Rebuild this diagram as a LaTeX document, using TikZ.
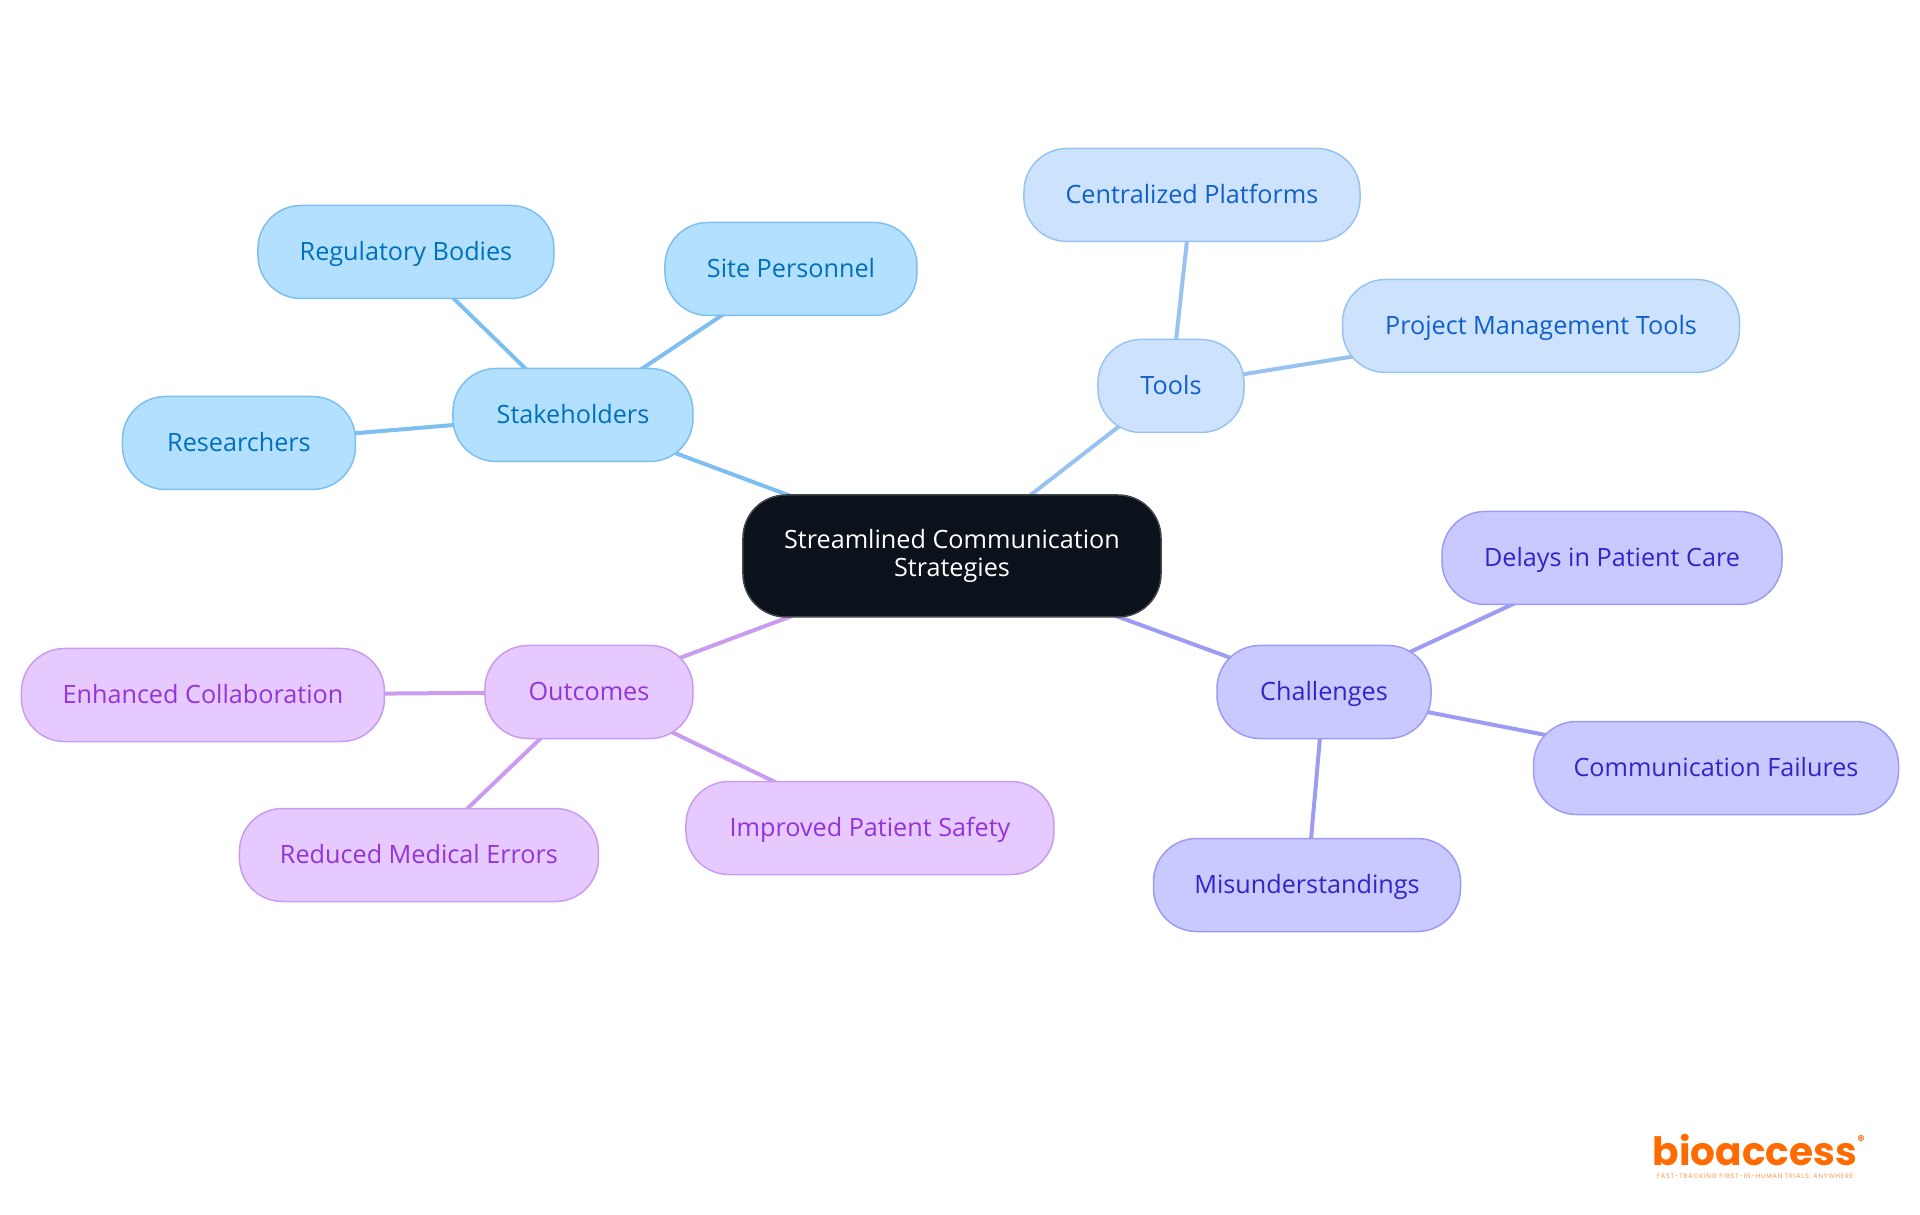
\documentclass[tikz,border=0pt]{standalone}
\usepackage{fontspec}
\setmainfont{Open Sans}
\newfontfamily\logofont{Poppins}
\newfontfamily\tagfont[LetterSpace=12]{Poppins}
\usepackage{tikz}
\usetikzlibrary{positioning}
\usetikzlibrary{backgrounds}
\definecolor{rootfill}{HTML}{0B121B}
\definecolor{rootline}{HTML}{3F444A}
\definecolor{stakefill}{HTML}{B3E0FF}
\definecolor{stakeline}{HTML}{7CBFF0}
\definecolor{staketext}{HTML}{0070BB}
\definecolor{toolfill}{HTML}{CCE2FD}
\definecolor{toolline}{HTML}{98C3F1}
\definecolor{tooltext}{HTML}{1060C9}
\definecolor{chalfill}{HTML}{C9C9FF}
\definecolor{challine}{HTML}{9C9CF2}
\definecolor{chaltext}{HTML}{3225C8}
\definecolor{outfill}{HTML}{E6C9FF}
\definecolor{outcline}{HTML}{C99CF0}
\definecolor{outctext}{HTML}{9333D8}
\definecolor{logoorange}{HTML}{FF6B00}

\begin{document}
\begin{tikzpicture}[
	node/.style={rectangle,draw,line width=1.5pt,rounded corners=43pt,minimum height=93pt,inner sep=0pt,align=center,font=\fontsize{25.2}{28}\selectfont},
	rootnode/.style={node,fill=rootfill,draw=rootline,text=white,minimum height=122pt},
	leaf/.style={node,text height=20pt,text depth=3pt},
	stake/.style={leaf,fill=stakefill,draw=stakeline,text=staketext},
	tool/.style={leaf,fill=toolfill,draw=toolline,text=tooltext},
	chal/.style={leaf,fill=chalfill,draw=challine,text=chaltext},
	outc/.style={leaf,fill=outfill,draw=outcline,text=outctext},
	link/.style={line width=4pt}]

	\useasboundingbox (-952pt,556pt) rectangle (968pt,-659pt);

	% Mitte
	\node[rootnode,minimum width=418pt] (Root) at (0,0) {Streamlined Communication\\Strategies};

	% Stakeholders
	\node[stake,minimum width=240pt] (Stakeholders) [above left=141pt and 379pt of Root.center,anchor=center] {Stakeholders};
	\node[stake,minimum width=252pt] (Site) [above right=146pt and 218pt of Stakeholders.center,anchor=center] {Site Personnel};
	\node[stake,minimum width=296pt] (Regulatory) [above left=163pt and 167pt of Stakeholders.center,anchor=center] {Regulatory Bodies};
	\node[stake,minimum width=233pt] (Researchers) [below left=28pt and 334pt of Stakeholders.center,anchor=center] {Researchers};

	% Tools
	\node[tool,minimum width=146pt] (Tools) [above right=170pt and 219pt of Root.center,anchor=center] {Tools};
	\node[tool,minimum width=336pt] (Centralized) [above right=191pt and 21pt of Tools.center,anchor=center] {Centralized Platforms};
	\node[tool,minimum width=397pt] (Project) [above right=60pt and 370pt of Tools.center,anchor=center] {Project Management Tools};

	% Challenges
	\node[chal,minimum width=214pt] (Challenges) [below right=136pt and 372pt of Root.center,anchor=center] {Challenges};
	\node[chal,minimum width=340pt] (Delays) [above right=134pt and 288pt of Challenges.center,anchor=center] {Delays in Patient Care};
	\node[chal,minimum width=365pt] (Failures) [below right=76pt and 392pt of Challenges.center,anchor=center] {Communication Failures};
	\node[chal,minimum width=307pt] (Misunderstandings) [below left=193pt and 17pt of Challenges.center,anchor=center] {Misunderstandings};

	% Outcomes
	\node[outc,minimum width=208pt] (Outcomes) [below left=136pt and 363pt of Root.center,anchor=center] {Outcomes};
	\node[outc,minimum width=363pt] (Enhanced) [below left=3pt and 386pt of Outcomes.center,anchor=center] {Enhanced Collaboration};
	\node[outc,minimum width=359pt] (Reduced) [below left=163pt and 170pt of Outcomes.center,anchor=center] {Reduced Medical Errors};
	\node[outc,minimum width=368pt] (Improved) [below right=136pt and 281pt of Outcomes.center,anchor=center] {Improved Patient Safety};

	% Logo
	\node[font=\logofont\bfseries\fontsize{39}{39}\selectfont,text=logoorange,inner sep=0pt] (Logo) [below right=594pt and 803pt of Root.center,anchor=center] {bioaccess};
	\node[font=\tagfont\fontsize{6.5}{6.5}\selectfont,text=logoorange!70,inner sep=0pt] (Tagline) [below=27pt of Logo.center,anchor=center] {FAST-TRACKING FIRST-IN-HUMAN TRIALS, ANYWHERE};
	\node[font=\logofont\bfseries\fontsize{14}{14}\selectfont,text=logoorange,inner sep=0pt] (Mark) [above right=9pt and 106pt of Logo.center,anchor=center] {®};

	\begin{scope}[on background layer]
	\path[link,draw=stakeline]
		(Root.center) edge (Stakeholders.center)
		(Stakeholders.center) edge (Site.center)
			edge (Regulatory.center)
			edge (Researchers.center);
	\path[link,draw=toolline]
		(Root.center) edge (Tools.center)
		(Tools.center) edge (Centralized.center)
			edge (Project.center);
	\path[link,draw=challine]
		(Root.center) edge (Challenges.center)
		(Challenges.center) edge (Delays.center)
			edge (Failures.center)
			edge (Misunderstandings.center);
	\path[link,draw=outcline]
		(Root.center) edge (Outcomes.center)
		(Outcomes.center) edge (Enhanced.center)
			edge (Reduced.center)
			edge (Improved.center);
	\end{scope}
\end{tikzpicture}
\end{document}
